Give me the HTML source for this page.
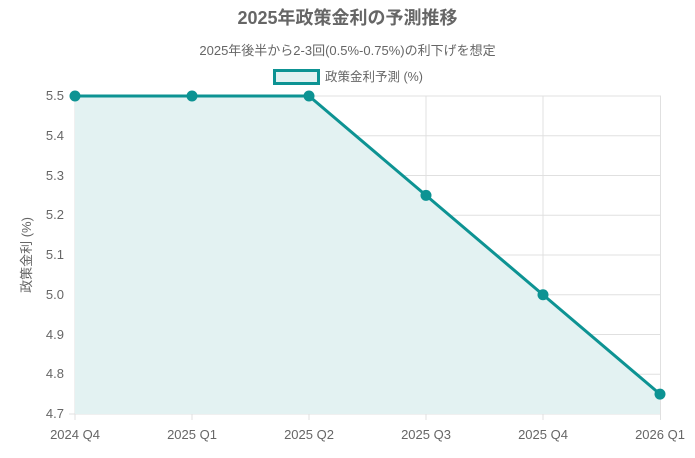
<!DOCTYPE html>
<html><head><meta charset="utf-8"><style>
body{margin:0;background:#fff;}
svg{display:block;font-family:"Liberation Sans","Noto Sans CJK JP",sans-serif;}
</style></head><body>
<svg width="695" height="458" viewBox="0 0 695 458">
<text x="347.5" y="24" text-anchor="middle" font-size="18" font-weight="bold" fill="#666">2025年政策金利の予測推移</text>
<text x="347.5" y="55" text-anchor="middle" font-size="13" fill="#666">2025年後半から2-3回(0.5%-0.75%)の利下げを想定</text>
<rect x="274.5" y="70.5" width="44" height="13" fill="#e3f2f2" stroke="#0d9393" stroke-width="3"/>
<text x="325" y="81" font-size="12.5" fill="#666">政策金利予測 (%)</text>
<g stroke="#e0e0e0" stroke-width="1">
<line x1="75" y1="96" x2="661" y2="96"/><line x1="75" y1="135.75" x2="661" y2="135.75"/><line x1="75" y1="175.5" x2="661" y2="175.5"/><line x1="75" y1="215.25" x2="661" y2="215.25"/><line x1="75" y1="255" x2="661" y2="255"/><line x1="75" y1="294.75" x2="661" y2="294.75"/><line x1="75" y1="334.5" x2="661" y2="334.5"/><line x1="75" y1="374.25" x2="661" y2="374.25"/>
<line x1="75" y1="96" x2="75" y2="420"/><line x1="192" y1="96" x2="192" y2="420"/><line x1="309" y1="96" x2="309" y2="420"/><line x1="426" y1="96" x2="426" y2="420"/><line x1="543" y1="96" x2="543" y2="420"/><line x1="660.5" y1="96" x2="660.5" y2="420"/>
<line x1="69" y1="414" x2="661" y2="414"/>
</g>
<polygon points="75,96 192,96 309,96 426,195.4 543,294.75 660,394.1 660,414 75,414" fill="#e3f2f2"/>
<polyline points="75,96 192,96 309,96 426,195.4 543,294.75 660,394.1" fill="none" stroke="#0d9393" stroke-width="3"/>
<g fill="#0d9393"><circle cx="75" cy="96" r="5.5"/><circle cx="192" cy="96" r="5.5"/><circle cx="309" cy="96" r="5.5"/><circle cx="426" cy="195.4" r="5.5"/><circle cx="543" cy="294.75" r="5.5"/><circle cx="660" cy="394.1" r="5.5"/></g>
<g font-size="13" fill="#666" text-anchor="end">
<text x="64" y="100">5.5</text><text x="64" y="140">5.4</text><text x="64" y="180">5.3</text><text x="64" y="219">5.2</text><text x="64" y="259">5.1</text><text x="64" y="299">5.0</text><text x="64" y="339">4.9</text><text x="64" y="378">4.8</text><text x="64" y="418">4.7</text>
</g>
<g font-size="13" fill="#666" text-anchor="middle">
<text x="75" y="439">2024 Q4</text><text x="192" y="439">2025 Q1</text><text x="309" y="439">2025 Q2</text><text x="426" y="439">2025 Q3</text><text x="543" y="439">2025 Q4</text><text x="660" y="439">2026 Q1</text>
</g>
<text transform="translate(31,255) rotate(-90)" text-anchor="middle" font-size="13" fill="#666">政策金利 (%)</text>
</svg>
</body></html>
